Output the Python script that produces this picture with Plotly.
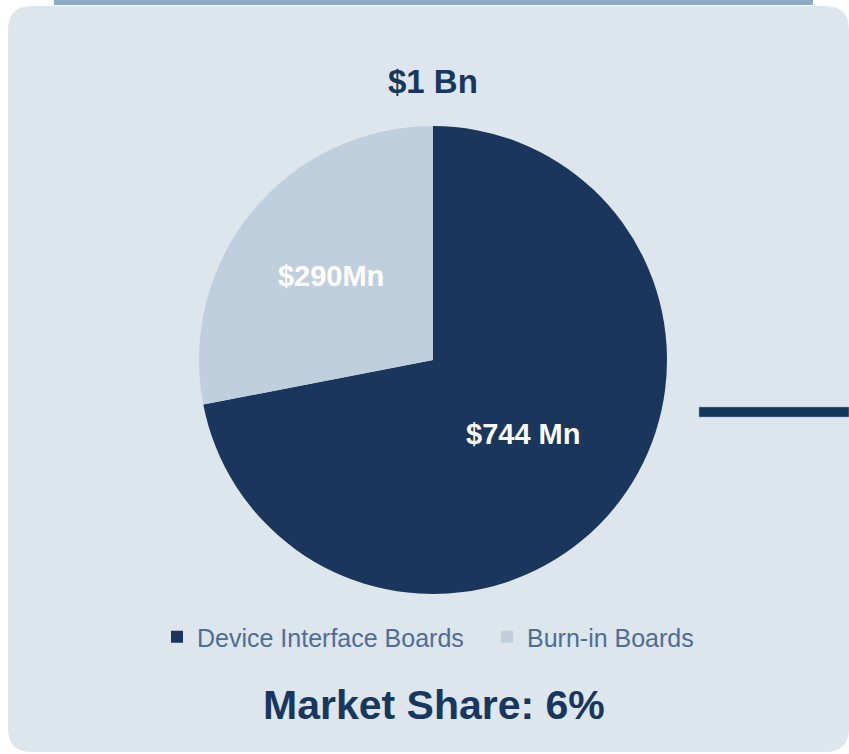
import plotly.graph_objects as go

W, H = 849, 754

segments = ["Device Interface Boards", "Burn-in Boards"]
values = [744, 290]
value_labels = ["$744 Mn", "$290Mn"]
colors = ["#1b365d", "#bfcfdd"]
total_label = "$1 Bn"
share_label = "Market Share: 6%"

FONT = "Liberation Sans, Arial, sans-serif"


def px(x):
    return x / W


def py(y):
    return 1 - y / H


def rounded_rect(x0, y0, x1, y1, r):
    pts = [
        f"M{px(x0 + r)},{py(y0)}",
        f"L{px(x1 - r)},{py(y0)}",
        f"Q{px(x1)},{py(y0)} {px(x1)},{py(y0 + r)}",
        f"L{px(x1)},{py(y1 - r)}",
        f"Q{px(x1)},{py(y1)} {px(x1 - r)},{py(y1)}",
        f"L{px(x0 + r)},{py(y1)}",
        f"Q{px(x0)},{py(y1)} {px(x0)},{py(y1 - r)}",
        f"L{px(x0)},{py(y0 + r)}",
        f"Q{px(x0)},{py(y0)} {px(x0 + r)},{py(y0)}",
        "Z",
    ]
    return " ".join(pts)


fig = go.Figure(go.Pie(
    labels=segments,
    values=values,
    text=value_labels,
    textinfo="text",
    textposition="inside",
    insidetextorientation="horizontal",
    textfont=dict(family=FONT, size=29, color="white", weight="bold"),
    marker=dict(colors=colors, line=dict(width=0)),
    sort=False,
    direction="clockwise",
    hoverinfo="none",
    domain=dict(x=[px(199), px(667)], y=[py(594), py(126)]),
))

shapes = [
    dict(type="path", xref="paper", yref="paper", path=rounded_rect(8, 6, 849, 752, 24),
         fillcolor="#dde5ed", line=dict(width=0), layer="below"),
    dict(type="rect", xref="paper", yref="paper", x0=px(54), x1=px(813), y0=py(5), y1=py(0),
         fillcolor="#8eaac8", line=dict(width=0), layer="below"),
    dict(type="rect", xref="paper", yref="paper", x0=px(699), x1=px(849), y0=py(417), y1=py(407),
         fillcolor="#12355b", line=dict(width=0.5, color="#9fb0c2"), layer="below"),
]

annotations = [
    dict(text=f"<b>{total_label}</b>", x=px(433), y=py(82), xref="paper", yref="paper",
         showarrow=False, xanchor="center", yanchor="middle",
         font=dict(family=FONT, size=33, color="#17375e")),
    dict(text=f"<b>{share_label}</b>", x=px(434), y=py(705), xref="paper", yref="paper",
         showarrow=False, xanchor="center", yanchor="middle",
         font=dict(family=FONT, size=41, color="#17375e")),
]

fig.update_layout(
    width=W, height=H,
    margin=dict(l=0, r=0, t=0, b=0),
    paper_bgcolor="white",
    plot_bgcolor="white",
    shapes=shapes,
    annotations=annotations,
    showlegend=True,
    legend=dict(orientation="h", x=px(487), xanchor="center", y=py(637), yanchor="middle",
                entrywidth=285, entrywidthmode="pixels",
                font=dict(family=FONT, size=25, color="#4d6e96"),
                bgcolor="rgba(0,0,0,0)", itemclick=False, itemdoubleclick=False),
)

# drop the browser's default body margin so the figure sits at the page corner
fig.write_html("out.html", config={"displayModeBar": False},
               post_script="document.body.style.margin = '0';")
